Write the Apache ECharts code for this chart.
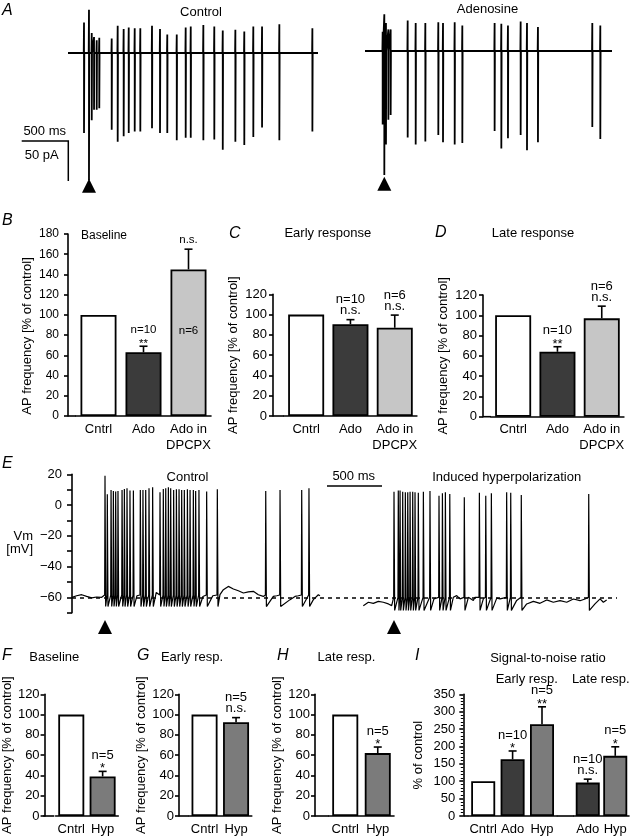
<!DOCTYPE html>
<html><head><meta charset="utf-8">
<script src="https://cdn.jsdelivr.net/npm/echarts@6/dist/echarts.min.js"></script>
<style>html,body{margin:0;padding:0;background:#fff}#c{width:630px;height:837px}</style>
</head><body><div id="c"></div>
<script>
// ---------------- DATA ----------------
// Panel A, Control (cell-attached currents, ms / pA)
const aCtrlEnd = 2717;
const aCtrlStimT = 228, aCtrlStimUp = 54, aCtrlStimDown = -159;
const aCtrlSpikeT = [174, 258, 283, 312, 340, 475, 540, 605, 660, 725, 786, 913, 1000, 1079, 1182, 1279, 1334, 1471, 1590, 1682, 1819, 1916, 2014, 2109, 2297, 2656];
const aCtrlSpikeUp = [38, 25, 20, 16, 19, 18, 34, 30, 32, 31, 31, 34, 30, 23, 23, 32, 33, 35, 33, 28, 29, 27, 33, 33, 36, 31];
const aCtrlSpikeDown = [-100, -84, -71, -71, -69, -96, -111, -104, -100, -98, -98, -94, -100, -100, -109, -106, -106, -109, -108, -121, -111, -115, -105, -93, -109, -98];
// Panel A, Adenosine
const aAdoEnd = 2685;
const aAdoStimT = 210, aAdoStimUp = 46, aAdoStimDown = -155;
const aAdoSpikeT = [192, 228, 254, 279, 464, 551, 656, 797, 848, 975, 1058, 1409, 1482, 1554, 1692, 1761, 1880, 2471, 2558];
const aAdoSpikeUp = [24, 35, 27, 27, 38, 35, 35, 36, 35, 36, 32, 35, 34, 32, 37, 35, 30, 35, 32];
const aAdoSpikeDown = [-92, -117, -86, -80, -108, -117, -113, -105, -114, -117, -115, -100, -122, -109, -105, -124, -114, -95, -110];

// Bar panels
const catsB = ['Cntrl', 'Ado', 'Ado in\nDPCPX'];
const valsB = [100, 63, 145];
const errB = [null, 6, 20];
const annB = [[], ['**', 'n=10'], ['n.s.']];
const insideB = ['', '', 'n=6'];

const catsC = ['Cntrl', 'Ado', 'Ado in\nDPCPX'];
const valsC = [100, 90.5, 87];
const errC = [null, 4.5, 12.5];
const annC = [[], ['n.s.', 'n=10'], ['n.s.', 'n=6']];

const catsD = ['Cntrl', 'Ado', 'Ado in\nDPCPX'];
const valsD = [100, 64, 97];
const errD = [null, 5, 12];
const annD = [[], ['**', 'n=10'], ['n.s.', 'n=6']];

const catsF = ['Cntrl', 'Hyp'];
const valsF = [100, 39];
const errF = [null, 5];
const annF = [[], ['*', 'n=5']];

const catsG = ['Cntrl', 'Hyp'];
const valsG = [100, 92.5];
const errG = [null, 4.5];
const annG = [[], ['n.s.', 'n=5']];

const catsH = ['Cntrl', 'Hyp'];
const valsH = [100, 62];
const errH = [null, 6];
const annH = [[], ['*', 'n=5']];

// Panel I: Cntrl | early (Ado, Hyp) | late (Ado, Hyp)
const catsI = ['Cntrl', 'Ado', 'Hyp', 'Ado', 'Hyp'];
const valsI = [100, 163, 264, 96, 173];
const errI = [null, 24, 50, 10, 26];
const annI = [[], ['*', 'n=10'], ['**', 'n=5'], ['n.s.', 'n=10'], ['*', 'n=5']];

// Panel E (membrane potential, ms / mV)
const eTicksMajor = 20;
const eCtrlBase = [[0,-60],[42,-59],[88,-58.3],[133,-59.4],[179,-60.4],[224,-59.8],[270,-60],[590,-59],[766,-56.8],[1190,-59.5],[1280,-59],[1345,-58.3],[1376,-55],[1421,-52.9],[1467,-54.6],[1512,-55.7],[1558,-57.2],[1603,-56.5],[1648,-56.1],[1694,-58.3],[1739,-59.4],[1830,-59.4],[1861,-59],[1982,-61.5],[2027,-59.4],[2057,-59],[2194,-61.5],[2239,-58.3],[2254,-59]];
const eCtrlSpikeT = [300, 321, 355, 376, 397, 418, 455, 476, 500, 527, 558, 621, 645, 670, 700, 733, 800, 830, 852, 876, 897, 924, 949, 973, 997, 1021, 1049, 1073, 1103, 1124, 1154, 1224, 1321, 1761, 1891, 2088, 2154];
const eCtrlPeak = [19, 7, 9.8, 9.2, 8.8, 9.2, 9.8, 10.5, 10.9, 9.4, 9.4, 9.8, 9.8, 9.8, 10.9, 11.6, 8.3, 10.5, 10.9, 11.6, 10.9, 9.8, 10.3, 10.3, 9.8, 9.8, 10.3, 9.8, 9.8, 9.2, 9.8, 8.8, 10.3, 9.2, 9.8, 9.8, 10.9];
const eCtrlThreshold = -58.5, eCtrlTrough = -66;
const eHypBase = [[2648,-65.4],[2694,-63.2],[2739,-63.9],[2785,-62.6],[2830,-63.2],[2876,-64.3],[2906,-65.4],[3290,-61],[3466,-60],[3497,-58.9],[3527,-61],[3603,-60],[3648,-62],[3663,-60],[3739,-61],[3861,-60.5],[3891,-61],[4042,-62],[4133,-64.3],[4194,-62.6],[4254,-63.9],[4315,-61.7],[4375,-63.2],[4436,-62.2],[4497,-63.2],[4557,-61.1],[4618,-62.2],[4663,-61.1],[4754,-64.3],[4800,-61],[4830,-63.2],[4860,-61.7]];
const eHypSpikeT = [2927, 2966, 2982, 3006, 3030, 3052, 3073, 3097, 3118, 3148, 3194, 3254, 3336, 3367, 3394, 3434, 3566, 3703, 3761, 3812, 3951, 3988, 4084, 4697];
const eHypPeak = [8.7, 9.4, 9.4, 8.7, 8.3, 8.3, 8.7, 8.7, 8.3, 8.0, 8.7, 9.2, 6.1, 7.6, 8.3, 7.2, 5.1, 8.0, 6.1, 7.6, 8.3, 8.0, 6.5, 7.2];
const eHypThreshold = -60, eHypTrough = -68.5;
const eRestLevel = -60;

// ---------------- STYLE / LAYOUT ----------------
const FONT = '"Liberation Sans", Arial, Helvetica, sans-serif';
const COL = {cntrl: '#ffffff', ado: '#3b3b3b', dpcpx: '#c6c6c6', hyp: '#7b7b7b'};
const YNAME = 'AP frequency [% of control]';

// each panel: y-axis position, then one or more blocks of equal-width category bands
const barPanels = [
  {cats: catsB, vals: valsB, errs: errB, anns: annB, inside: insideB, colors: [COL.cntrl, COL.ado, COL.dpcpx],
   axisX: 68, blocks: [{n: 3, start: 76, w: 45}], top: 234, bottom: 416, yMax: 180, interval: 20, barW: 36, fs: 12, afs: 11.5, margin: 9,
   nameGraphic: {x: 27, y: 336}},
  {cats: catsC, vals: valsC, errs: errC, anns: annC, colors: [COL.cntrl, COL.ado, COL.dpcpx],
   axisX: 273, blocks: [{n: 3, start: 284, w: 44.3}], top: 294.3, bottom: 416, yMax: 120, interval: 20, barW: 36, fs: 13, afs: 13, margin: 6, name: YNAME, nameGap: 33},
  {cats: catsD, vals: valsD, errs: errD, anns: annD, colors: [COL.cntrl, COL.ado, COL.dpcpx],
   axisX: 483, blocks: [{n: 3, start: 491, w: 44.3}], top: 295, bottom: 416.7, yMax: 120, interval: 20, barW: 36, fs: 13, afs: 13, margin: 6, name: YNAME, nameGap: 33},
  {cats: catsF, vals: valsF, errs: errF, anns: annF, colors: [COL.cntrl, COL.hyp],
   axisX: 43.3, blocks: [{n: 2, start: 54.3, w: 32}], top: 694.3, bottom: 816, yMax: 120, interval: 20, barW: 26, fs: 13, afs: 13, margin: 5, name: YNAME, nameGap: 28},
  {cats: catsG, vals: valsG, errs: errG, anns: annG, colors: [COL.cntrl, COL.hyp],
   axisX: 179, blocks: [{n: 2, start: 188.8, w: 31.5}], top: 694.3, bottom: 816, yMax: 120, interval: 20, barW: 26, fs: 13, afs: 13, margin: 5, name: YNAME, nameGap: 26},
  {cats: catsH, vals: valsH, errs: errH, anns: annH, colors: [COL.cntrl, COL.hyp],
   axisX: 315, blocks: [{n: 2, start: 329, w: 32.5}], top: 694.3, bottom: 816, yMax: 120, interval: 20, barW: 26, fs: 13, afs: 13, margin: 5, name: YNAME, nameGap: 26},
  {cats: catsI, vals: valsI, errs: errI, anns: annI, colors: [COL.cntrl, COL.ado, COL.hyp, COL.ado, COL.hyp],
   axisX: 463.3, blocks: [{n: 3, start: 468.5, w: 29.4}, {n: 2, start: 574, w: 27.5}], top: 694.3, bottom: 816, yMax: 350, interval: 50, minor: true, barW: 24, fs: 13, afs: 13, margin: 8, name: '% of control', nameGap: 38}
];

// ---------------- BUILD ----------------
function spikeTrace(end, spikeT, up, down, stimT, stimUp, stimDown) {
  const ev = spikeT.map((t, i) => ({t, up: up[i], down: down[i]}));
  ev.push({t: stimT, up: stimUp, down: stimDown});
  ev.sort((a, b) => a.t - b.t);
  const pts = [[0, 0]];
  ev.forEach(e => { pts.push([e.t - 3, 0], [e.t, e.up], [e.t, e.down], [e.t + 3, 0]); });
  pts.push([end, 0]);
  return pts;
}
function vmTrace(base, spikeT, peaks, threshold, trough) {
  const pts = base.map(p => [p[0], p[1]]);
  spikeT.forEach((t, i) => { pts.push([t - 3, threshold], [t, peaks[i]], [t + 6, trough]); });
  pts.sort((a, b) => a[0] - b[0]);
  return pts;
}

const grids = [], xAxes = [], yAxes = [], series = [], graphics = [];
const blk = '#000';
const AX = {color: blk, width: 1.6};

function txt(s, x, y, opt) {
  opt = opt || {};
  const el = {type: 'text', x: x, y: y, z: 10, style: {text: s, fill: blk,
    font: (opt.italic ? 'italic ' : '') + (opt.size || 13) + 'px ' + FONT,
    align: opt.align || 'center', verticalAlign: 'middle'}};
  if (opt.rotation) el.rotation = opt.rotation;
  graphics.push(el);
}

let gi = 0;
barPanels.forEach(p => {
  let offset = 0, prevEnd = p.axisX;
  p.blocks.forEach((blkL, bi) => {
    const idx = [];
    for (let k = 0; k < blkL.n; k++) idx.push(offset + k);
    offset += blkL.n;
    grids.push({left: blkL.start, top: p.top, width: blkL.w * blkL.n, height: p.bottom - p.top});
    xAxes.push({gridIndex: gi, type: 'category', data: idx.map(i => p.cats[i]),
      axisLine: {lineStyle: AX}, axisTick: {show: false},
      axisLabel: {interval: 0, fontSize: 13, color: blk, fontFamily: FONT, margin: 5, lineHeight: 16}});
    const ya = {gridIndex: gi, type: 'value', min: 0, max: p.yMax, interval: p.interval, splitLine: {show: false}};
    if (bi === 0) {
      Object.assign(ya, {offset: blkL.start - p.axisX,
        axisLine: {show: true, lineStyle: AX},
        axisTick: {show: true, length: 4, lineStyle: AX},
        axisLabel: {fontSize: p.fs, color: blk, fontFamily: FONT, margin: p.margin}});
      if (p.name) Object.assign(ya, {name: p.name, nameLocation: 'middle', nameGap: p.nameGap,
        nameTextStyle: {fontSize: 13, color: blk, fontFamily: FONT}});
      if (p.minor) ya.minorTick = {show: true, splitNumber: 5, length: 2.5, lineStyle: {color: blk, width: 1}};
    } else {
      ya.show = false;
    }
    yAxes.push(ya);
    graphics.push({type: 'line', shape: {x1: prevEnd, y1: p.bottom, x2: blkL.start, y2: p.bottom}, style: {stroke: blk, lineWidth: 1.6}});
    prevEnd = blkL.start + blkL.w * blkL.n;

    series.push({type: 'bar', xAxisIndex: gi, yAxisIndex: gi, barWidth: p.barW,
      itemStyle: {borderColor: blk, borderWidth: 1.8},
      data: idx.map(i => {
        const d = {value: p.vals[i], itemStyle: {color: p.colors[i]}};
        if (p.inside && p.inside[i]) d.label = {show: true, position: 'inside', offset: [0, -12], formatter: p.inside[i], color: blk, fontSize: p.afs, fontFamily: FONT};
        return d;
      })});
    series.push({type: 'custom', xAxisIndex: gi, yAxisIndex: gi, z: 5, clip: false,
      data: idx.map((i, k) => [k, p.vals[i]]),
      renderItem: function (params, api) {
        const i = idx[params.dataIndex];
        const e = p.errs[i];
        if (!e) return null;
        const v = api.value(1);
        const b = api.coord([params.dataIndex, v]), t = api.coord([params.dataIndex, v + e]);
        const ch = [
          {type: 'line', shape: {x1: b[0], y1: b[1], x2: t[0], y2: t[1]}, style: {stroke: blk, lineWidth: 1.6}},
          {type: 'line', shape: {x1: t[0] - 4, y1: t[1], x2: t[0] + 4, y2: t[1]}, style: {stroke: blk, lineWidth: 1.6}}
        ];
        let y = null, prevStar = false;
        (p.anns[i] || []).forEach((s, k) => {
          const star = s.indexOf('*') === 0;
          if (k === 0) y = t[1] - (star ? 2.5 : 9);
          else y -= prevStar ? 13.5 : 11;
          ch.push({type: 'text', style: {text: s, x: t[0], y: y, align: 'center', verticalAlign: 'middle', fill: blk, fontSize: p.afs, fontFamily: FONT}});
          prevStar = star;
        });
        return {type: 'group', children: ch};
      }});
    gi++;
  });
  if (p.nameGraphic) txt(YNAME, p.nameGraphic.x, p.nameGraphic.y, {rotation: Math.PI / 2});
});

// Panel A grids
const aPanels = [
  {left: 68, top: 5, width: 250, end: aCtrlEnd, data: spikeTrace(aCtrlEnd, aCtrlSpikeT, aCtrlSpikeUp, aCtrlSpikeDown, aCtrlStimT, aCtrlStimUp, aCtrlStimDown), stim: aCtrlStimT},
  {left: 365, top: 3, width: 247, end: aAdoEnd, data: spikeTrace(aAdoEnd, aAdoSpikeT, aAdoSpikeUp, aAdoSpikeDown, aAdoStimT, aAdoStimUp, aAdoStimDown), stim: aAdoStimT}
];
aPanels.forEach(ap => {
  grids.push({left: ap.left, top: ap.top, width: ap.width, height: 192});
  xAxes.push({gridIndex: gi, type: 'value', min: 0, max: ap.end, show: false});
  yAxes.push({gridIndex: gi, type: 'value', min: -180, max: 60, show: false});
  series.push({type: 'line', xAxisIndex: gi, yAxisIndex: gi, data: ap.data, showSymbol: false, symbol: 'none',
    lineStyle: {color: blk, width: 1.8}});
  series.push({type: 'scatter', xAxisIndex: gi, yAxisIndex: gi, clip: false, data: [[ap.stim, -166]],
    symbol: 'triangle', symbolSize: [14, 14], itemStyle: {color: blk, opacity: 1}});
  gi++;
});

// Panel E grid
grids.push({left: 72, top: 474.3, width: 545, height: 138.4});
xAxes.push({gridIndex: gi, type: 'value', min: 0, max: 4954, show: false});
yAxes.push({gridIndex: gi, type: 'value', min: -70, max: 20, interval: 10, offset: 2,
  axisLine: {show: true, lineStyle: AX},
  axisTick: {show: true, length: 5, lineStyle: AX},
  axisLabel: {fontSize: 13, color: blk, fontFamily: FONT, margin: 8,
    formatter: v => (v % eTicksMajor === 0 ? String(v).replace('-', '\u2212') : '')},
  splitLine: {show: false}});
series.push({type: 'line', xAxisIndex: gi, yAxisIndex: gi, data: vmTrace(eCtrlBase, eCtrlSpikeT, eCtrlPeak, eCtrlThreshold, eCtrlTrough),
  showSymbol: false, symbol: 'none', lineStyle: {color: blk, width: 1.2},
  markLine: {silent: true, symbol: ['none', 'none'], label: {show: false}, lineStyle: {type: [4, 4], color: blk, width: 1.5},
    data: [{yAxis: eRestLevel}]}});
series.push({type: 'line', xAxisIndex: gi, yAxisIndex: gi, data: vmTrace(eHypBase, eHypSpikeT, eHypPeak, eHypThreshold, eHypTrough),
  showSymbol: false, symbol: 'none', lineStyle: {color: blk, width: 1.2}});
series.push({type: 'scatter', xAxisIndex: gi, yAxisIndex: gi, clip: false,
  data: [[eCtrlSpikeT[0], -79.3], [eHypSpikeT[0], -79.3]],
  symbol: 'triangle', symbolSize: [14, 14], itemStyle: {color: blk, opacity: 1}});

// Texts
[['A', 2, 11], ['B', 2, 221], ['C', 229, 234], ['D', 435, 233], ['E', 2, 463.5], ['F', 2, 656], ['G', 137, 656], ['H', 277, 656], ['I', 415, 656]]
  .forEach(l => txt(l[0], l[1], l[2], {italic: true, size: 16, align: 'left'}));
txt('Control', 201, 12.5);
txt('Adenosine', 487.5, 9.5);
txt('500 ms', 44.7, 131.7);
txt('50 pA', 41.7, 155);
graphics.push({type: 'polyline', shape: {points: [[21.7, 141], [68.3, 141], [68.3, 181]]}, style: {stroke: blk, lineWidth: 1.5, fill: null}});
txt('Baseline', 104, 236, {size: 12});
txt('Early response', 327.8, 233);
txt('Late response', 533, 233);
txt('Vm', 33, 536, {align: 'right'});
txt('[mV]', 33, 549, {align: 'right'});
txt('Control', 187.5, 477.7);
txt('Induced hyperpolarization', 506.7, 477.7);
txt('500 ms', 353.7, 476.7);
graphics.push({type: 'line', shape: {x1: 327, y1: 486, x2: 382, y2: 486}, style: {stroke: blk, lineWidth: 1.5}});
txt('Baseline', 54.3, 657);
txt('Early resp.', 192, 657);
txt('Late resp.', 346.5, 657);
txt('Signal-to-noise ratio', 548, 658.3);
txt('Early resp.', 526.7, 679);
txt('Late resp.', 600.8, 679);

const chart = echarts.init(document.getElementById('c'), null, {renderer: 'canvas'});
chart.setOption({
  animation: false,
  backgroundColor: '#fff',
  textStyle: {fontFamily: FONT},
  grid: grids, xAxis: xAxes, yAxis: yAxes, series: series, graphic: graphics
});
</script></body></html>
